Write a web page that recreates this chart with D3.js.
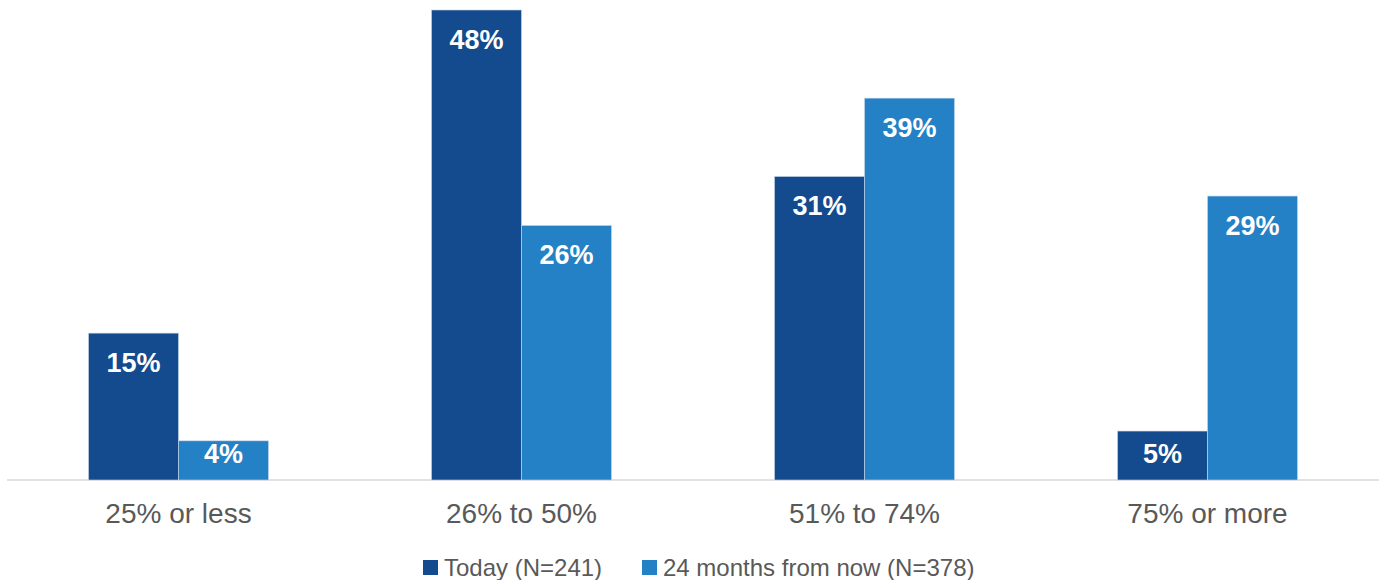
<!DOCTYPE html>
<html>
<head>
<meta charset="utf-8">
<script src="https://cdn.jsdelivr.net/npm/d3@7"></script>
<style>
  body { margin: 0; background: #fff; }
  svg { display: block; font-family: "Liberation Sans", Arial, sans-serif; }
</style>
</head>
<body>
<svg id="chart"></svg>
<script>
//  data
const categories = ["25% or less", "26% to 50%", "51% to 74%", "75% or more"];
const series = ["Today (N=241)", "24 months from now (N=378)"];
const today = [15, 48, 31, 5];
const later = [4, 26, 39, 29];
const colors = ["#134b8e", "#2581c5"];

const w = 1383, h = 580;
const margin = ({top: 10, right: 4, bottom: 100, left: 7});
const svg = d3.select("#chart").attr("width", w).attr("height", h);

const x0 = d3.scaleBand().domain(categories).range([margin.left, w - margin.right]);
const step = x0.bandwidth();
const x1 = d3.scaleBand().domain(series)
  .range([step / 2 - 90, step / 2 + 90]);
const y = d3.scaleLinear().domain([0, 48]).range([h - margin.bottom, margin.top]);

//  baseline
svg.append("line")
  .attr("x1", margin.left).attr("x2", w - margin.right)
  .attr("y1", y(0)).attr("y2", y(0))
  .style("stroke", "#d9d9d9").style("stroke-width", 1.5);

const rows = categories.map((c, i) => ({cat: c, vals: [today[i], later[i]]}));

rows.forEach(row => {
  const g = svg.append("g").attr("transform", `translate(${x0(row.cat)},0)`);
  row.vals.forEach((v, j) => {
    const top = y(v), bh = y(0) - y(v);
    g.append("rect")
      .attr("x", x1(series[j]))
      .attr("y", top)
      .attr("width", x1.bandwidth())
      .attr("height", bh)
      .attr("fill", colors[j])
      .attr("stroke", "#c9d7ec")
      .attr("stroke-width", 0.6);
    g.append("text")
      .attr("x", x1(series[j]) + x1.bandwidth() / 2)
      .attr("y", top + Math.min(39, bh - 17))
      .attr("text-anchor", "middle")
      .style("font-size", "27px")
      .style("font-weight", "bold")
      .style("fill", "#fff")
      .text(v + "%");
  });
  //  category label
  svg.append("text")
    .attr("x", x0(row.cat) + step / 2)
    .attr("y", 523)
    .attr("text-anchor", "middle")
    .style("font-size", "28px")
    .style("fill", "#595959")
    .text(row.cat);
});

//  legend
const legendX = [423, 642];
series.forEach((s, j) => {
  svg.append("rect")
    .attr("x", legendX[j]).attr("y", 560)
    .attr("width", 15).attr("height", 15)
    .attr("fill", colors[j]);
  svg.append("text")
    .attr("x", legendX[j] + 21).attr("y", 576)
    .style("font-size", "24px")
    .style("fill", "#595959")
    .text(s);
});
</script>
</body>
</html>
